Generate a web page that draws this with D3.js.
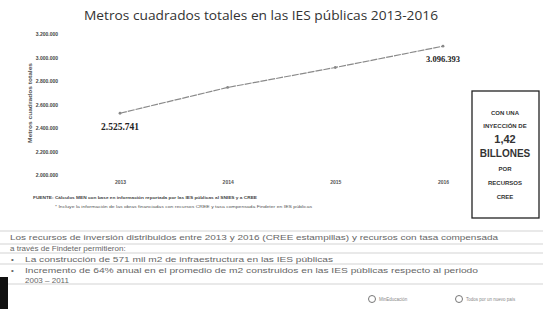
<!DOCTYPE html>
<html>
<head>
<meta charset="utf-8">
<script src="https://cdn.jsdelivr.net/npm/d3@7"></script>
<style>
  body { margin: 0; background: #fff; }
  svg { display: block; }
</style>
</head>
<body>
<div class="chart"></div>
<script>
var svgWidth = 543;
var svgHeight = 309;

// data
var years = ["2013", "2014", "2015", "2016"];
var metros = [2525741, 2745000, 2915000, 3096393];
var yTicks = [2000000, 2200000, 2400000, 2600000, 2800000, 3000000, 3200000];
var boxLines = ["CON UNA", "INYECCIÓN DE", "1,42", "BILLONES", "POR", "RECURSOS", "CREE"];
var textLines = [
  "Los recursos de inversión distribuidos entre 2013 y 2016 (CREE estampillas) y recursos con tasa compensada",
  "a través de Findeter permitieron:"
];
var bullets = [
  "La construcción de 571 mil m2 de infraestructura en las IES públicas",
  "Incremento de 64% anual en el promedio de m2 construidos en las IES públicas respecto al periodo"
];

var locale = d3.formatLocale({ decimal: ",", thousands: ".", grouping: [3], currency: ["$", ""] });
var fmt = locale.format(",d");

var svg = d3.select(".chart")
  .append("svg")
  .attr("width", svgWidth)
  .attr("height", svgHeight);

// title
svg.append("text")
  .attr("x", 261)
  .attr("y", 20)
  .attr("text-anchor", "middle")
  .attr("font-family", "Open Sans")
  .attr("font-size", 13.5)
  .attr("fill", "#333")
  .attr("textLength", 354)
  .attr("lengthAdjust", "spacingAndGlyphs")
  .text("Metros cuadrados totales en las IES públicas 2013-2016");

// scales
var x = d3.scalePoint()
  .domain(years)
  .range([120, 443]);

var y = d3.scaleLinear()
  .domain([2000000, 3200000])
  .range([175, 34]);

// y axis (labels only)
var leftAxis = d3.axisLeft(y)
  .tickValues(yTicks)
  .tickSize(0)
  .tickPadding(0)
  .tickFormat(fmt);

var yAxis = svg.append("g")
  .attr("transform", "translate(58,0)")
  .call(leftAxis);
yAxis.select(".domain").remove();
yAxis.selectAll("text")
  .attr("font-family", "Liberation Sans")
  .attr("font-size", 5)
  .attr("font-weight", "bold")
  .attr("fill", "#444");

// x axis (labels only)
var bottomAxis = d3.axisBottom(x)
  .tickSize(0)
  .tickPadding(0);

var xAxis = svg.append("g")
  .attr("transform", "translate(0,180)")
  .call(bottomAxis);
xAxis.select(".domain").remove();
xAxis.selectAll("text")
  .attr("font-family", "Liberation Sans")
  .attr("font-size", 5)
  .attr("font-weight", "bold")
  .attr("fill", "#555");

// y axis title
svg.append("text")
  .attr("transform", "translate(32,103) rotate(-90)")
  .attr("text-anchor", "middle")
  .attr("font-family", "Liberation Sans")
  .attr("font-size", 4.5)
  .attr("font-weight", "bold")
  .attr("fill", "#555")
  .attr("textLength", 80)
  .attr("lengthAdjust", "spacingAndGlyphs")
  .text("Metros cuadrados totales");

// line
var line = d3.line()
  .x(function (d, i) { return x(years[i]); })
  .y(function (d) { return y(d); });

svg.append("path")
  .datum(metros)
  .attr("d", line)
  .attr("fill", "none")
  .attr("stroke", "#8a8a8a")
  .attr("stroke-width", 1.2)
  .attr("stroke-dasharray", "7,1");

svg.selectAll("circle.pt")
  .data(metros)
  .enter()
  .append("circle")
  .attr("class", "pt")
  .attr("cx", function (d, i) { return x(years[i]); })
  .attr("cy", function (d) { return y(d); })
  .attr("r", 1.4)
  .attr("fill", "#888");

// data labels, first and last
svg.append("text")
  .attr("x", x(years[0]))
  .attr("y", y(metros[0]) + 17)
  .attr("text-anchor", "middle")
  .attr("font-family", "Liberation Serif")
  .attr("font-size", 9.5)
  .attr("font-weight", "bold")
  .attr("fill", "#222")
  .text(fmt(metros[0]));

svg.append("text")
  .attr("x", x(years[3]))
  .attr("y", y(metros[3]) + 16)
  .attr("text-anchor", "middle")
  .attr("font-family", "Liberation Serif")
  .attr("font-size", 8.5)
  .attr("font-weight", "bold")
  .attr("fill", "#222")
  .text(fmt(metros[3]));

// source notes
svg.append("text")
  .attr("x", 33)
  .attr("y", 199)
  .attr("font-family", "Liberation Sans")
  .attr("font-size", 4)
  .attr("font-weight", "bold")
  .attr("fill", "#444")
  .attr("textLength", 224)
  .attr("lengthAdjust", "spacingAndGlyphs")
  .text("FUENTE: Cálculos MEN con base en información reportada por las IES públicas al SNIES y a CREE");

svg.append("text")
  .attr("x", 55)
  .attr("y", 208)
  .attr("font-family", "Liberation Sans")
  .attr("font-size", 4)
  .attr("fill", "#555")
  .attr("textLength", 257)
  .attr("lengthAdjust", "spacingAndGlyphs")
  .text("* Incluye la información de las obras financiadas con recursos CREE y tasa compensada Findeter en IES públicas");

// right box
svg.append("rect")
  .attr("x", 472)
  .attr("y", 91)
  .attr("width", 67)
  .attr("height", 127)
  .attr("fill", "#fff")
  .attr("stroke", "#222")
  .attr("stroke-width", 1.3);

var boxY = [115, 128, 143, 157, 171, 185, 199];
var boxSize = [6, 6, 11, 10, 6, 6, 6];
svg.selectAll("text.box")
  .data(boxLines)
  .enter()
  .append("text")
  .attr("class", "box")
  .attr("x", 505)
  .attr("y", function (d, i) { return boxY[i]; })
  .attr("text-anchor", "middle")
  .attr("font-family", "Liberation Sans")
  .attr("font-weight", "bold")
  .attr("font-size", function (d, i) { return boxSize[i]; })
  .attr("fill", "#333")
  .text(function (d) { return d; });

// horizontal rules behind the text block
var rules = [231, 244, 253, 264, 284];
svg.selectAll("line.rule")
  .data(rules)
  .enter()
  .append("line")
  .attr("class", "rule")
  .attr("x1", 0)
  .attr("x2", 543)
  .attr("y1", function (d) { return d; })
  .attr("y2", function (d) { return d; })
  .attr("stroke", "#c8c8c8")
  .attr("stroke-width", 0.8);

// text block
svg.append("text")
  .attr("x", 10)
  .attr("y", 240)
  .attr("font-family", "Liberation Sans")
  .attr("font-size", 8)
  .attr("fill", "#666")
  .attr("textLength", 488)
  .attr("lengthAdjust", "spacingAndGlyphs")
  .text(textLines[0]);

svg.append("text")
  .attr("x", 10)
  .attr("y", 251)
  .attr("font-family", "Liberation Sans")
  .attr("font-size", 8)
  .attr("fill", "#666")
  .text(textLines[1]);

var bulletY = [262, 273];
var bulletW = [308, 453];
bullets.forEach(function (b, i) {
  svg.append("text")
    .attr("x", 11)
    .attr("y", bulletY[i])
    .attr("font-family", "Liberation Sans")
    .attr("font-size", 8)
    .attr("fill", "#666")
    .text("•");
  svg.append("text")
    .attr("x", 25)
    .attr("y", bulletY[i])
    .attr("font-family", "Liberation Sans")
    .attr("font-size", 8)
    .attr("fill", "#666")
    .attr("textLength", bulletW[i])
    .attr("lengthAdjust", "spacingAndGlyphs")
    .text(b);
});

svg.append("text")
  .attr("x", 25)
  .attr("y", 283)
  .attr("font-family", "Liberation Sans")
  .attr("font-size", 8)
  .attr("fill", "#666")
  .text("2003 – 2011");

// footer logos
var logos = [{ cx: 372, label: "MinEducación" }, { cx: 459, label: "Todos por un nuevo país" }];
logos.forEach(function (l) {
  svg.append("circle")
    .attr("cx", l.cx)
    .attr("cy", 299)
    .attr("r", 3.5)
    .attr("fill", "none")
    .attr("stroke", "#777")
    .attr("stroke-width", 1);
  svg.append("text")
    .attr("x", l.cx + 7)
    .attr("y", 301)
    .attr("font-family", "Liberation Sans")
    .attr("font-size", 4.5)
    .attr("fill", "#888")
    .text(l.label);
});

// dark corner at bottom left
svg.append("rect")
  .attr("x", 0)
  .attr("y", 277)
  .attr("width", 8)
  .attr("height", 32)
  .attr("fill", "#111");
</script>
</body>
</html>
